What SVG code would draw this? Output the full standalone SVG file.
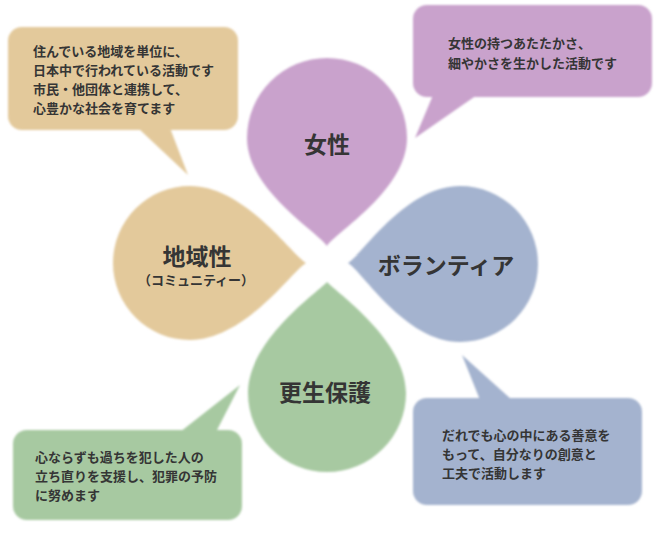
<svg xmlns="http://www.w3.org/2000/svg" width="672" height="533" viewBox="0 0 672 533">
<defs>
<filter id="soft" x="-5%" y="-5%" width="110%" height="110%"><feGaussianBlur stdDeviation="1"/></filter>
<style>
.tan{fill:#e3c99b}.pur{fill:#c9a2cc}.blu{fill:#a4b3cf}.grn{fill:#a7c9a1}
.t{font-family:"Noto Sans CJK JP","Noto Sans CJK SC",sans-serif;font-weight:700;fill:#353535;font-size:13px}
.big{font-family:"Noto Sans CJK JP","Noto Sans CJK SC",sans-serif;font-weight:700;fill:#353535;font-size:23px;text-anchor:middle}
.sub{font-family:"Noto Sans CJK JP","Noto Sans CJK SC",sans-serif;font-weight:700;fill:#353535;font-size:13px;text-anchor:middle}
</style>
</defs>
<rect width="672" height="533" fill="#ffffff"/>
<g id="connectors"></g>
<g id="petal-josei">
<path class="pur" filter="url(#soft)" d="M327 246 C318 232 247 190 247 138 A80 80 0 1 1 407 138 C407 190 336 232 327 246 Z"/>
<text class="big" x="327" y="153">女性</text>
</g>
<g id="petal-chiiki">
<path class="tan" filter="url(#soft)" d="M306 263 C292 255 245 186 190 186 A77 77 0 1 0 190 340 C245 340 292 271 306 263 Z"/>
<text class="big" x="197" y="265">地域性</text>
<text class="sub" x="196" y="285">（コミュニティー）</text>
</g>
<g id="petal-volunteer">
<path class="blu" filter="url(#soft)" d="M348 263 C362 255 405 186 460 186 A78 78 0 1 1 460 342 C405 342 362 271 348 263 Z"/>
<text class="big" x="446" y="274">ボランティア</text>
</g>
<g id="petal-kousei">
<path class="grn" filter="url(#soft)" d="M327 282 C318 292 248 340 248 393 A79 79 0 1 0 406 393 C406 340 336 292 327 282 Z"/>
<text class="big" x="325" y="401">更生保護</text>
</g>
<g id="bubble-chiiki">
<g class="tan" filter="url(#soft)"><rect x="8" y="27" width="230" height="103" rx="14"/><polygon points="138,128 170,128 188,175"/></g>
<text class="t" x="33" y="56">住んでいる地域を単位に、</text>
<text class="t" x="33" y="75">日本中で行われている活動です</text>
<text class="t" x="33" y="94">市民・他団体と連携して、</text>
<text class="t" x="33" y="113">心豊かな社会を育てます</text>
</g>
<g id="bubble-josei">
<g class="pur" filter="url(#soft)"><rect x="413" y="5" width="239" height="92" rx="14"/><polygon points="433,95 477,95 415,138"/></g>
<text class="t" x="448" y="48">女性の持つあたたかさ、</text>
<text class="t" x="448" y="68">細やかさを生かした活動です</text>
</g>
<g id="bubble-kousei">
<g class="grn" filter="url(#soft)"><rect x="13" y="430" width="229" height="90" rx="14"/><polygon points="180,432 216,432 240,385"/></g>
<text class="t" x="35" y="462">心ならずも過ちを犯した人の</text>
<text class="t" x="35" y="481">立ち直りを支援し、犯罪の予防</text>
<text class="t" x="35" y="500">に努めます</text>
</g>
<g id="bubble-volunteer">
<g class="blu" filter="url(#soft)"><rect x="413" y="398" width="229" height="107" rx="14"/><polygon points="480,400 512,400 462,355"/></g>
<text class="t" x="442" y="440">だれでも心の中にある善意を</text>
<text class="t" x="442" y="459">もって、自分なりの創意と</text>
<text class="t" x="442" y="478">工夫で活動します</text>
</g>
</svg>
